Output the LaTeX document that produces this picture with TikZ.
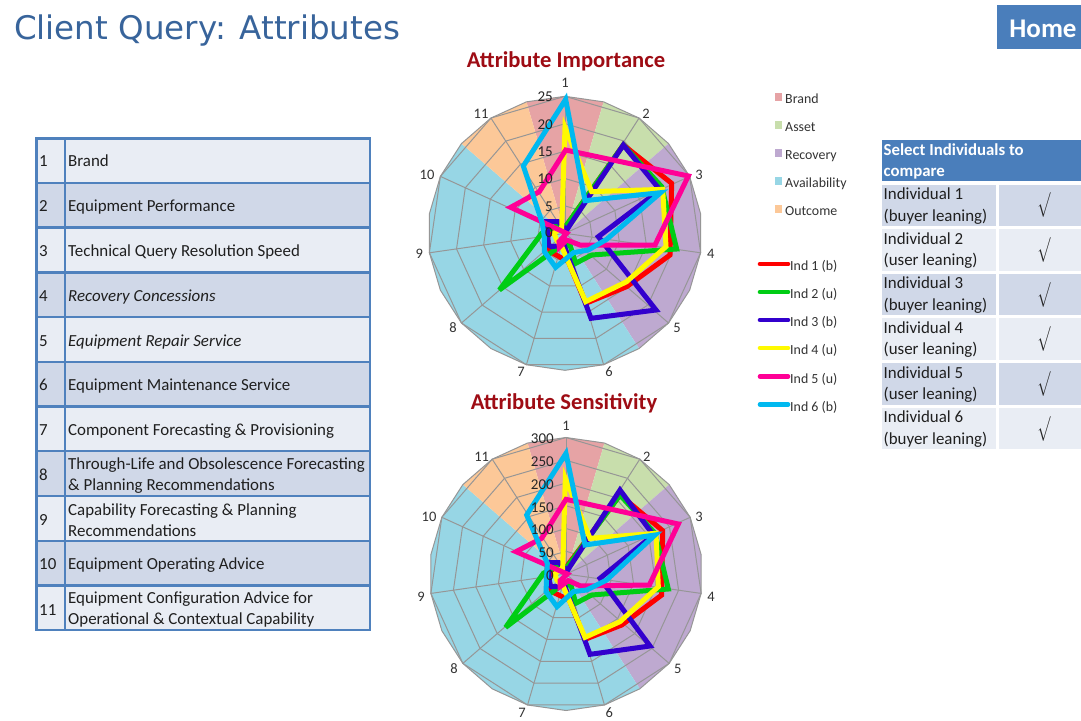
\documentclass[tikz,border=0pt]{standalone}
\usepackage{fontspec}
\setmainfont{Carlito}
\newfontfamily\titlefont{DejaVu Sans}
\definecolor{tblue}{RGB}{79,129,189}
\definecolor{tdark}{RGB}{208,216,232}
\definecolor{tlight}{RGB}{233,237,244}
\definecolor{titleblue}{RGB}{56,100,155}
\definecolor{homeblue}{RGB}{74,126,187}
\definecolor{dkred}{RGB}{158,12,20}
\definecolor{wbrand}{RGB}{230,163,165}
\definecolor{wasset}{RGB}{200,222,172}
\definecolor{wrecov}{RGB}{190,169,208}
\definecolor{wavail}{RGB}{151,214,229}
\definecolor{woutc}{RGB}{252,200,152}
\definecolor{gridgray}{RGB}{150,150,150}
\definecolor{sred}{RGB}{255,0,0}
\definecolor{sgreen}{RGB}{0,205,20}
\definecolor{sblue}{RGB}{50,0,205}
\definecolor{syellow}{RGB}{255,250,0}
\definecolor{smag}{RGB}{255,0,150}
\definecolor{scyan}{RGB}{0,185,240}
\tikzset{
  serline/.style={line width=5pt,line join=miter,miter limit=6},
  gridln/.style={draw=gridgray,line width=1pt},
  ticklabel/.style={inner sep=0,text=black!80,font=\fontsize{14.5}{15}\selectfont},
  vallabel/.style={inner sep=0,anchor=east,text=black!85,font=\fontsize{15}{15}\selectfont},
  legendtxt/.style={inner sep=0,anchor=base west,text=black!80,font=\fontsize{13.9}{14}\selectfont},
  tabletxt/.style={inner sep=0,anchor=west,align=left,text=black!88,font=\fontsize{16.9}{21}\selectfont},
  tableone/.style={inner sep=0,anchor=base west,text=black!88,font=\fontsize{16.9}{21}\selectfont},
  sidetxt/.style={inner sep=0,anchor=west,align=left,text=black!88,font=\fontsize{16.9}{21.5}\selectfont},
  charttitle/.style={inner sep=0,text=dkred,font=\bfseries\fontsize{22.6}{23}\selectfont},
}
% wedge: colour, first and last vertex index of the 22-gon
\newcommand{\rwedge}[4]{\fill[#1] (0,0) \foreach \k in {#2,...,#3} { -- ({\k*16.3636-90}:#4) } -- cycle;}
\newcommand{\radarbase}[4]{%
 \begin{scope}[xshift=#1pt,yshift=-#2pt]
  \rwedge{wbrand}{-1}{1}{#3}
  \rwedge{wasset}{1}{3}{#3}
  \rwedge{wrecov}{3}{9}{#3}
  \rwedge{wavail}{9}{19}{#3}
  \rwedge{woutc}{19}{21}{#3}
  \draw[gridln] (-90:#3) \foreach \k in {1,...,21} { -- ({\k*16.3636-90}:#3) } -- cycle;
  \foreach \k in {0,...,10} \draw[gridln] (0,0) -- ({\k*32.7273-90}:#3);
  \foreach \i in {1,...,#4} {
    \draw[gridln] (-90:{#3*\i/#4}) \foreach \k in {1,...,10} { -- ({\k*32.7273-90}:{#3*\i/#4}) } -- cycle;
  }
 \end{scope}}
\begin{document}
\begin{tikzpicture}[x=1pt,y=-1pt]
\useasboundingbox (0,0) rectangle (1081,720);
\fill[white] (0,0) rectangle (1081,720);
% title and home
\node[anchor=west,inner sep=0,text=titleblue,font=\titlefont\fontsize{32.5}{34}\selectfont] (title) at (14,31) {Client Query: Attributes};
\node[anchor=north west,inner sep=0,minimum width=84pt,minimum height=44pt,fill=homeblue] (home) at (997,5) {};
\node[inner sep=0,text=white,font=\bfseries\fontsize{27}{28}\selectfont] (hometxt) at (1043,28.5) {Home};
% left table
\foreach \i/\a/\b/\c in {1/138.5/183/tlight,2/183/227.5/tdark,3/227.5/272.3/tlight,4/272.3/317/tdark,5/317/361.7/tlight,6/361.7/406.3/tdark,7/406.3/451/tlight,8/451/496/tdark,9/496/541/tlight,10/541/585.5/tdark,11/585.5/630/tlight}
  \draw[draw=tblue,line width=2.4pt,fill=\c] (36.5,\a) rectangle (65,\b) (65,\a) rectangle (370,\b);
\foreach \i/\y in {1/166.7,2/211.3,3/256,4/301,5/346,6/390.7,7/435.3,8/480,9/525,10/569.5,11/615}
  \node[tableone] (num\i) at (39,\y) {\i};
\node[tableone] (r1) at (68,166.7) {Brand};
\node[tableone] (r2) at (68,211.3) {Equipment Performance};
\node[tableone] (r3) at (68,256) {Technical Query Resolution Speed};
\node[tableone] (r4) at (68,301) {\itshape Recovery Concessions};
\node[tableone] (r5) at (68,346) {\itshape Equipment Repair Service};
\node[tableone] (r6) at (68,390.7) {Equipment Maintenance Service};
\node[tableone] (r7) at (68,435.3) {Component Forecasting \& Provisioning};
\node[tabletxt] (r8) at (68,475.5) {Through-Life and Obsolescence Forecasting\\\& Planning Recommendations};
\node[tabletxt] (r9) at (68,520) {Capability Forecasting \& Planning\\Recommendations};
\node[tableone] (r10) at (68,569.5) {Equipment Operating Advice};
\node[tabletxt] (r11) at (68,609.5) {Equipment Configuration Advice for\\Operational \& Contextual Capability};
% chart titles
\node[charttitle] (t1) at (566,61.5) {Attribute Importance};
\node[charttitle] (t2) at (564,403.5) {Attribute Sensitivity};
% chart 1
\radarbase{565}{233.3}{137}{5}
\begin{scope}[xshift=410pt,yshift=-70pt,x=0.33333pt,y=-0.33333pt]
\draw[serline,sred] (465,472)--(640,225)--(785,340)--(780,555)--(650,650)--(527,700)--(475,575)--(420,545)--(412,500)--(430,480)--(450,470)--cycle;
\draw[serline,sgreen] (465,472)--(640,225)--(755,350)--(800,537)--(545,555)--(497,580)--(480,525)--(455,525)--(268,660)--(395,490)--(435,470)--(455,462)--cycle;
\draw[serline,sblue] (470,480)--(640,225)--(750,360)--(565,500)--(738,720)--(543,745)--(462,525)--(425,530)--(415,525)--(410,455)--(445,455)--cycle;
\draw[serline,syellow] (465,172)--(545,365)--(758,358)--(768,530)--(650,635)--(527,695)--(455,530)--(440,510)--(432,490)--(445,480)--(455,475)--cycle;
\draw[serline,smag] (467,240)--(835,318)--(735,525)--(510,525)--(470,510)--(448,532)--(447,515)--(470,490)--(302,412)--(388,365)--cycle;
\draw[serline,scyan] (467,88)--(525,392)--(752,368)--(590,508)--(535,540)--(490,548)--(437,592)--(403,545)--(403,500)--(397,460)--(340,288)--cycle;
\end{scope}
\foreach \t/\x/\y in {1/565/83,2/646/114,3/699/175,4/710.7/254,5/677/328,6/609/372,7/521/372,8/453/328,9/419.3/254,10/427/175,11/481/114}
  \node[ticklabel] (ca\t) at (\x,\y) {\t};
\foreach \t/\y in {25/97,20/125,15/151.7,10/179,5/206.7,0/233}
  \node[vallabel] (va\t) at (553,\y) {\t};
% chart 2
\radarbase{566}{574}{136.5}{6}
\begin{scope}[xshift=410pt,yshift=-410pt,x=0.33333pt,y=-0.33333pt]
\draw[serline,sred] (468,472)--(630,255)--(758,362)--(755,555)--(635,645)--(525,688)--(478,570)--(425,545)--(415,500)--(432,482)--(452,472)--cycle;
\draw[serline,sgreen] (468,475)--(630,255)--(735,370)--(775,537)--(545,555)--(497,580)--(483,525)--(455,525)--(287,652)--(400,490)--(440,470)--(455,465)--cycle;
\draw[serline,sblue] (472,482)--(630,240)--(730,375)--(570,505)--(720,708)--(540,733)--(465,530)--(425,530)--(420,525)--(412,458)--(447,458)--cycle;
\draw[serline,syellow] (466,205)--(540,385)--(738,370)--(745,530)--(630,635)--(525,682)--(460,530)--(440,510)--(435,492)--(448,480)--(458,475)--cycle;
\draw[serline,smag] (468,268)--(805,342)--(718,525)--(512,528)--(475,512)--(450,530)--(450,512)--(472,492)--(318,425)--(395,385)--cycle;
\draw[serline,scyan] (468,130)--(525,405)--(735,375)--(590,510)--(530,540)--(490,545)--(441,590)--(408,545)--(410,500)--(412,460)--(350,315)--cycle;
\end{scope}
\foreach \t/\x/\y in {1/566/426,2/646.7/456.7,3/699/517,4/711/597,5/677.7/669,6/609.3/713,7/522/713,8/454/669,9/421/597,10/429/517,11/481.7/457}
  \node[ticklabel] (cb\t) at (\x,\y) {\t};
\foreach \t/\y in {300/439,250/462,200/485,150/508,100/530,50/553,0/576}
  \node[vallabel] (vb\t) at (554,\y) {\t};
% legends
\foreach \c/\t/\y in {wbrand/Brand/99,wasset/Asset/127,wrecov/Recovery/155,wavail/Availability/183,woutc/Outcome/211}{
  \fill[\c] (774.5,{\y-6}) rectangle (782,{\y+1.5});
  \node[legendtxt] (lg\t) at (785,{\y+4.4}) {\t};
}
\foreach \i/\c/\t/\y in {1/sred/b/264,2/sgreen/u/292,3/sblue/b/320,4/syellow/u/348,5/smag/u/376.5,6/scyan/b/404.5}{
  \node[legendtxt] (li\i) at (790,{\y+6.5}) {Ind \i\ (\t)};
  \coordinate (ls\i) at (760,\y);
  \coordinate (le\i) at (788,\y);
  \draw[\c,line width=4.6pt,line cap=round] (ls\i) -- (le\i);
}
% right table
\node[anchor=north west,inner sep=0,minimum width=199.3pt,minimum height=41.5pt,fill=homeblue] (hdr) at (881.7,139.3) {};
\node[inner sep=0,anchor=west,align=left,text=white,font=\bfseries\fontsize{16.8}{21}\selectfont] (hdrtxt) at (883.5,161) {Select Individuals to\\compare};
\foreach \i/\a/\b/\c/\t in {1/185/225.7/tdark/buyer,2/229/270.7/tlight/user,3/273.7/315.3/tdark/buyer,4/318.3/360/tlight/user,5/363.3/405/tdark/user,6/407.7/449.3/tlight/buyer}{
  \fill[\c] (881.7,\a) rectangle (996,\b);
  \fill[\c] (998.7,\a) rectangle (1081,\b);
  \node[sidetxt] (ind\i) at (883.5,{(\a+\b)/2+0.5}) {Individual \i\\(\t\ leaning)};
  \node[inner sep=0,text=black!85,font=\fontsize{25}{26}\selectfont] (chk\i) at (1044,{(\a+\b)/2}) {\scalebox{0.62}[1]{$\surd$}};
}
\end{tikzpicture}
\end{document}
